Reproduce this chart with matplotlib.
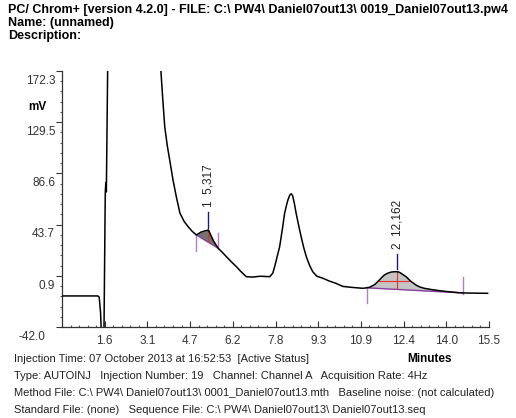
import numpy as np
import matplotlib
matplotlib.use('Agg')
import matplotlib.pyplot as plt
import matplotlib.transforms as mtransforms

plt.rcParams['font.family'] = ['Liberation Sans', 'DejaVu Sans']

# chromatogram trace (minutes, mV)
time = [0.00, 0.50, 1.00, 1.30, 1.35, 1.40, 1.44, 1.48, 1.52, 1.57, 1.59, 1.61, 1.66, 1.72,
        2.50, 3.30, 3.50, 3.59, 3.66, 3.73, 3.82, 3.91, 4.03, 4.15, 4.28, 4.43, 4.58, 4.73,
        4.88, 5.05, 5.20, 5.317, 5.40, 5.50, 5.67, 5.82, 5.97, 6.15, 6.33, 6.50, 6.69, 6.92,
        7.20, 7.54, 7.65, 7.72, 7.80, 7.90, 8.00, 8.08, 8.15, 8.20, 8.27, 8.32, 8.37, 8.43,
        8.50, 8.60, 8.68, 8.78, 8.87, 8.98, 9.10, 9.25, 9.47, 9.70, 9.95, 10.19, 10.50, 10.92,
        11.06, 11.16, 11.35, 11.52, 11.62, 11.70, 11.82, 11.95, 12.05, 12.162, 12.25, 12.35,
        12.49, 12.65, 12.85, 13.00, 13.15, 13.40, 13.70, 14.00, 14.42, 14.57, 14.80, 15.10, 15.45]
signal = [-16.0, -16.0, -16.0, -16.0, -17.0, -30.0, -55.0, -60.0, -55.0, 70.0, 79.0, 71.0, 180.0, 280.0,
          420.0, 320.0, 215.0, 172.3, 148.0, 125.6, 110.0, 97.7, 81.0, 67.0, 53.4, 46.5, 41.9, 38.0,
          35.0, 37.5, 38.5, 39.2, 35.0, 30.0, 23.9, 20.5, 16.8, 12.5, 8.5, 4.3, 0.1, -0.2,
          0.5, 0.1, 3.0, 8.5, 16.0, 25.2, 40.0, 53.1, 60.0, 64.3, 68.5, 69.5, 68.0, 62.0,
          53.1, 42.0, 33.6, 24.0, 16.8, 10.0, 4.3, 0.5, -1.2, -3.5, -5.5, -8.0, -8.8, -9.6,
          -9.2, -8.8, -6.5, -2.7, -0.2, 1.5, 3.0, 4.0, 4.2, 4.3, 3.8, 2.3,
          0.1, -3.5, -6.9, -8.6, -9.6, -10.6, -11.6, -12.4, -13.3, -13.5, -13.6, -13.7, -13.8]

# integrated peaks: number, retention time, start/end of baseline, fill colour
peak_num = [1, 2]
peak_rt = [5.317, 12.162]
peak_start = [4.88, 11.06]
peak_end = [5.67, 14.57]
peak_label = ['5,317', '12,162']
peak_fill = ['#737373', '#c4c4c4']
peak_halfwidth = [False, True]

yticks = [-42.0, 0.9, 43.7, 86.6, 129.5, 172.3]
xticks = [1.55, 3.1, 4.65, 6.2, 7.75, 9.3, 10.85, 12.4, 13.95, 15.5]
xticklabels = ['1.6', '3.1', '4.7', '6.2', '7.8', '9.3', '10.9', '12.4', '14.0', '15.5']

header = ['PC/ Chrom+ [version 4.2.0] - FILE: C:\\ PW4\\ Daniel07out13\\ 0019_Daniel07out13.pw4',
          'Name: (unnamed)',
          'Description:']
footer = ['Injection Time: 07 October 2013 at 16:52:53  [Active Status]',
          'Type: AUTOINJ   Injection Number: 19   Channel: Channel A   Acquisition Rate: 4Hz',
          'Method File: C:\\ PW4\\ Daniel07out13\\ 0001_Daniel07out13.mth   Baseline noise: (not calculated)',
          'Standard File: (none)   Sequence File: C:\\ PW4\\ Daniel07out13\\ Daniel07out13.seq']

t = np.array(time)
s = np.array(signal)

W, H = 516, 418
fig = plt.figure(figsize=(W / 100, H / 100), dpi=100)
ax = fig.add_axes([62 / W, 1 - 327 / H, (489 - 62) / W, (327 - 71) / H])

for i in range(len(peak_num)):
    ts, te, rt = peak_start[i], peak_end[i], peak_rt[i]
    vs, ve = np.interp(ts, t, s), np.interp(te, t, s)
    m = (t >= ts) & (t <= te)
    tt = np.concatenate([[ts], t[m], [te]])
    ss = np.concatenate([[vs], s[m], [ve]])
    base = vs + (tt - ts) * (ve - vs) / (te - ts)
    ax.fill_between(tt, ss, base, color=peak_fill[i], lw=0, zorder=1)
    ax.plot([ts, te], [vs, ve], color='#8a3fa0', lw=1.0, zorder=2)
    # start / end markers
    ax.plot([ts, ts], [vs + 1, vs - 13], color='#b47cc8', lw=1.0, zorder=2)
    ax.plot([te, te], [ve - 1, ve + 13], color='#b47cc8', lw=1.0, zorder=2)
    apex = np.interp(rt, t, s)
    b_apex = vs + (rt - ts) * (ve - vs) / (te - ts)
    ax.plot([rt, rt], [b_apex, apex], color='#e8302a', lw=0.8, zorder=3)
    if peak_halfwidth[i]:
        # width at half height
        half = b_apex + (apex - b_apex) / 2
        k = np.argmax(ss)
        tl = np.interp(half, ss[:k + 1], tt[:k + 1])
        tr = np.interp(-half, -ss[k:], tt[k:])
        ax.plot([tl, tr], [half, half], color='#e8302a', lw=0.8, zorder=3)
    ax.plot([rt, rt], [apex + 2, apex + 15], color='#1a1a80', lw=1.0, zorder=3)
    ax.text(rt, apex + 19, '%d  %s' % (peak_num[i], peak_label[i]), rotation=90,
            ha='center', va='bottom', fontsize=8.5, color='#222222')

ax.plot(t, s, color='black', lw=1.1, zorder=4)

ax.set_xlim(0, 15.5)
ax.set_ylim(-42.0, 172.3)
ax.spines['top'].set_visible(False)
ax.spines['right'].set_visible(False)
for sp in ['left', 'bottom']:
    ax.spines[sp].set_linewidth(0.9)
    ax.spines[sp].set_color('#333333')

ax.set_yticks(yticks)
ax.set_yticklabels(['%.1f' % v for v in yticks])
ax.set_yticks(np.arange(-42.0, 172.3, 42.86 / 5), minor=True)
ax.set_xticks(xticks)
ax.set_xticklabels(xticklabels)
ax.set_xticks(np.arange(0, 15.5, 1.55 / 5), minor=True)
ax.tick_params(axis='y', which='major', direction='out', length=4, width=0.8, labelsize=8.5,
               colors='#333333', pad=1)
ax.tick_params(axis='y', which='minor', direction='out', length=1.5, width=0.8, colors='#555555')
ax.tick_params(axis='x', which='major', direction='in', length=4, width=0.8, labelsize=8.5,
               colors='#333333', pad=6)
ax.tick_params(axis='x', which='minor', direction='in', length=1.5, width=0.8, colors='#555555')

off = mtransforms.ScaledTranslation(0, -6 / 72, fig.dpi_scale_trans)
for k, lab in enumerate(ax.get_yticklabels()):
    if k == 0:
        lab.set_transform(lab.get_transform() + mtransforms.ScaledTranslation(-7 / 72, -6 / 72, fig.dpi_scale_trans))
    else:
        lab.set_transform(lab.get_transform() + off)

fig.text(28 / W, 1 - 107 / H, 'mV', fontsize=8.5, fontweight='bold', ha='left', va='center')
fig.text(430 / W, 1 - 359 / H, 'Minutes', fontsize=8.5, fontweight='bold', ha='center', va='center')

for k, line in enumerate(header):
    fig.text(8 / W, 1 - (10 + 13 * k) / H, line, fontsize=9, fontweight='bold',
             ha='left', va='center')
for k, line in enumerate(footer):
    fig.text(14 / W, 1 - (359 + 17 * k) / H, line, fontsize=8, ha='left', va='center',
             color='#222222')

fig.savefig('out.png', dpi=100)
